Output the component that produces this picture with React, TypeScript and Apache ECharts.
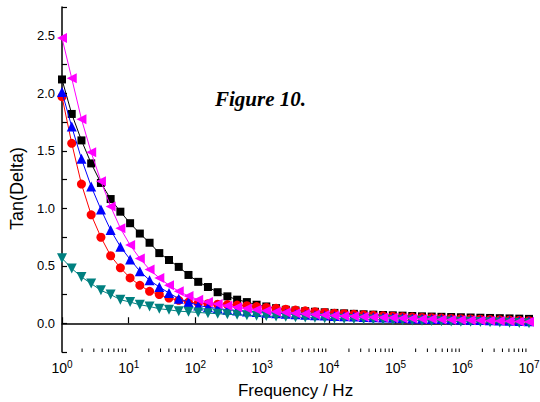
import React, { useEffect, useRef } from "react";
import * as echarts from "echarts";

const frequencies = [
  1, 1.399, 1.957, 2.738, 3.831, 5.36, 7.499, 10.49, 14.68, 20.54, 28.73, 40.2, 56.23, 78.67,
  110.1, 154.0, 215.4, 301.4, 421.7, 590.0, 825.4, 1155, 1616, 2261, 3162, 4424, 6190, 8660,
  12115, 16950, 23710, 33180, 46420, 64940, 90850, 127100, 177800, 248800, 348100, 487000,
  681300, 953200, 1334000, 1866000, 2610000, 3652000, 5109000, 7148000, 10000000,
];

const blackSquares = [
  2.12, 1.82, 1.59, 1.39, 1.22, 1.08, 0.97, 0.87, 0.78, 0.7, 0.61, 0.55, 0.49, 0.42, 0.36,
  0.315, 0.27, 0.234, 0.205, 0.184, 0.161, 0.146, 0.131, 0.117, 0.111, 0.105, 0.1, 0.095, 0.09,
  0.086, 0.082, 0.078, 0.075, 0.072, 0.069, 0.066, 0.063, 0.06, 0.058, 0.056, 0.054, 0.052,
  0.05, 0.048, 0.046, 0.044, 0.042, 0.04, 0.038,
];

const redCircles = [
  1.97, 1.565, 1.21, 0.943, 0.748, 0.587, 0.482, 0.394, 0.33, 0.278, 0.249, 0.219, 0.199, 0.184,
  0.175, 0.17, 0.166, 0.162, 0.158, 0.152, 0.145, 0.138, 0.13, 0.122, 0.115, 0.108, 0.1, 0.094,
  0.088, 0.083, 0.078, 0.073, 0.069, 0.065, 0.061, 0.057, 0.054, 0.051, 0.048, 0.045, 0.042,
  0.04, 0.037, 0.035, 0.032, 0.03, 0.028, 0.025, 0.022,
];

const blueTriangles = [
  2.01, 1.71, 1.43, 1.19, 0.99, 0.81, 0.666, 0.555, 0.453, 0.374, 0.315, 0.263, 0.214, 0.184,
  0.155, 0.14, 0.128, 0.118, 0.11, 0.103, 0.097, 0.092, 0.087, 0.082, 0.078, 0.074, 0.07, 0.067,
  0.064, 0.061, 0.058, 0.055, 0.052, 0.05, 0.047, 0.045, 0.042, 0.04, 0.038, 0.036, 0.034, 0.032,
  0.03, 0.028, 0.026, 0.024, 0.022, 0.02, 0.018,
];

const tealTriangles = [
  0.565, 0.476, 0.403, 0.345, 0.286, 0.249, 0.205, 0.184, 0.161, 0.146, 0.126, 0.117, 0.105, 0.1,
  0.094, 0.088, 0.083, 0.078, 0.074, 0.07, 0.066, 0.062, 0.059, 0.056, 0.053, 0.05, 0.047, 0.044,
  0.041, 0.039, 0.036, 0.034, 0.032, 0.03, 0.028, 0.026, 0.024, 0.022, 0.02, 0.018, 0.016, 0.014,
  0.012, 0.01, 0.008, 0.006, 0.004, 0.002, 0.0,
];

const magentaTriangles = [
  2.48, 2.13, 1.775, 1.486, 1.235, 1.016, 0.826, 0.68, 0.564, 0.467, 0.394, 0.33, 0.278, 0.236,
  0.205, 0.185, 0.168, 0.153, 0.14, 0.128, 0.118, 0.109, 0.101, 0.094, 0.088, 0.082, 0.077, 0.072,
  0.068, 0.064, 0.06, 0.056, 0.053, 0.05, 0.047, 0.044, 0.041, 0.038, 0.036, 0.033, 0.031, 0.029,
  0.026, 0.024, 0.022, 0.02, 0.017, 0.015, 0.012,
];

const minorXTicks = [
  2, 3, 4, 5, 6, 7, 8, 9,
  20, 30, 40, 50, 60, 70, 80, 90,
  200, 300, 400, 500, 600, 700, 800, 900,
  2000, 3000, 4000, 5000, 6000, 7000, 8000, 9000,
  20000, 30000, 40000, 50000, 60000, 70000, 80000, 90000,
  200000, 300000, 400000, 500000, 600000, 700000, 800000, 900000,
  2000000, 3000000, 4000000, 5000000, 6000000, 7000000, 8000000, 9000000,
];

const Y_MIN = -0.25;
const Y_MAX = 2.75;

const seriesDefs = [
  { name: "A", data: blackSquares, color: "#000000", symbol: "rect", size: 8, rotate: 0 },
  { name: "B", data: redCircles, color: "#ff0000", symbol: "circle", size: 9, rotate: 0 },
  { name: "C", data: blueTriangles, color: "#0000ff", symbol: "triangle", size: 10, rotate: 0 },
  { name: "E", data: tealTriangles, color: "#008080", symbol: "triangle", size: 10, rotate: 180 },
  { name: "D", data: magentaTriangles, color: "#ff00ff", symbol: "triangle", size: 10, rotate: 90 },
];

export default function App() {
  const ref = useRef<HTMLDivElement>(null);
  useEffect(() => {
    document.body.style.margin = "0";
    if (!ref.current) return;
    const chart = echarts.init(ref.current, null, { renderer: "svg" });
    const font = "Liberation Sans";
    const option: any = {
      animation: false,
      backgroundColor: "#ffffff",
      grid: { left: 62, right: 11, top: 7, bottom: 50, outerBoundsMode: "none" },
      xAxis: {
        type: "log",
        logBase: 10,
        min: 1,
        max: 10000000,
        splitNumber: 7,
        name: "Frequency / Hz",
        nameLocation: "middle",
        nameGap: 30,
        nameTextStyle: { fontFamily: font, fontSize: 17, color: "#000" },
        axisLine: { show: true, lineStyle: { color: "#000", width: 1.5 } },
        axisTick: { show: true, inside: true, length: 6, lineStyle: { color: "#000", width: 1.2 } },
        minorTick: { show: false },
        splitLine: { show: false },
        axisLabel: {
          margin: 7,
          color: "#000",
          formatter: (v: number) => {
            const e = Math.round(Math.log10(v));
            return `{b|10}{s|${e}}`;
          },
          rich: {
            b: { fontFamily: font, fontSize: 14, lineHeight: 16, verticalAlign: "bottom", color: "#000" },
            s: { fontFamily: font, fontSize: 10, lineHeight: 10, verticalAlign: "top", color: "#000" },
          },
        },
      },
      yAxis: {
        type: "value",
        min: Y_MIN,
        max: Y_MAX,
        interval: 0.25,
        name: "Tan(Delta)",
        nameLocation: "middle",
        nameGap: 36,
        nameTextStyle: { fontFamily: font, fontSize: 18, color: "#000", padding: [0, 18, 0, 0] },
        axisLine: { show: true, lineStyle: { color: "#000", width: 1.5 } },
        axisTick: { show: true, inside: true, length: 5, lineStyle: { color: "#000", width: 1.2 } },
        splitLine: { show: false },
        axisLabel: {
          margin: 7,
          color: "#000",
          fontFamily: font,
          fontSize: 13,
          formatter: (v: number) =>
            Math.abs(v * 2 - Math.round(v * 2)) < 1e-6 ? v.toFixed(1) : "",
        },
      },
      graphic: [
        {
          type: "text",
          x: 215,
          y: 99,
          style: {
            text: "Figure 10.",
            font: "italic bold 21px 'Liberation Serif'",
            fill: "#000",
            verticalAlign: "middle",
            align: "left",
          },
        },
      ],
      series: [
        {
          type: "custom",
          silent: true,
          clip: false,
          z: 1,
          data: minorXTicks.map((v) => [v, Y_MIN]),
          encode: { x: 0, y: 1 },
          renderItem: (params: any, api: any) => {
            const p = api.coord([api.value(0), Y_MIN]);
            return {
              type: "line",
              shape: { x1: p[0], y1: p[1], x2: p[0], y2: p[1] - 3.5 },
              style: { stroke: "#000", lineWidth: 1 },
            };
          },
        },
        ...seriesDefs.map((s, k) => ({
          type: "line",
          name: s.name,
          z: 2 + k,
          data: frequencies.map((f, i) => [f, s.data[i]]),
          symbol: s.symbol,
          symbolSize: s.size,
          symbolRotate: s.rotate,
          showAllSymbol: true,
          lineStyle: { color: s.color, width: 1 },
          itemStyle: { color: s.color },
          clip: true,
        })),
      ],
    };
    chart.setOption(option);
    return () => chart.dispose();
  }, []);
  return (
    <div
      ref={ref}
      style={{ position: "absolute", left: 0, top: 0, width: 540, height: 402, background: "#fff" }}
    />
  );
}
